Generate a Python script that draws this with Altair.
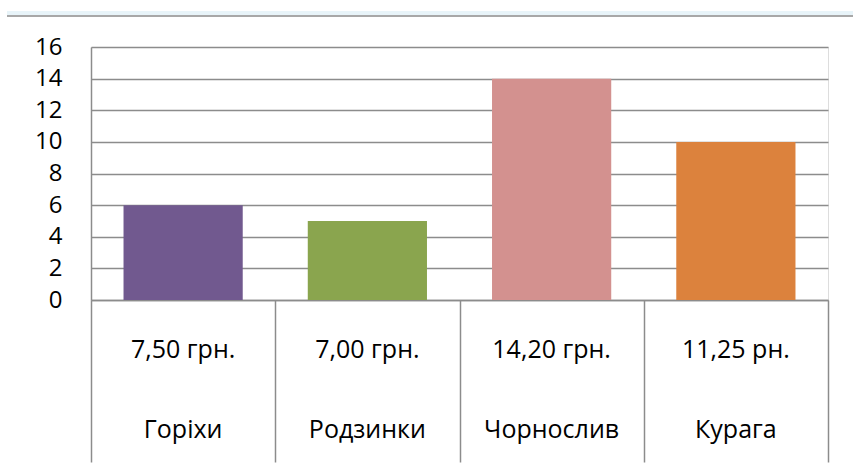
import altair as alt
import pandas as pd

names = ["Горіхи", "Родзинки", "Чорнослив", "Курага"]
prices = ["7,50 грн.", "7,00 грн.", "14,20 грн.", "11,25 рн."]
values = [6, 5, 14, 10]
colors = ["#71598f", "#8aa54e", "#d3918f", "#dc823d"]
y_ticks = [0, 2, 4, 6, 8, 10, 12, 14, 16]

df = pd.DataFrame({"name": names, "price": prices, "value": values, "color": colors})

FONT = "Open Sans"
GRID = "#8c8c8c"

x_axis = alt.Axis(
    title=None,
    labels=False,
    tickBand="extent",
    tickSize=162,
    tickColor=GRID,
    tickWidth=1.5,
    domainColor=GRID,
    domainWidth=1.5,
    grid=False,
)
x_scale = alt.Scale(paddingInner=0, paddingOuter=0)

y_axis = alt.Axis(
    title=None,
    values=y_ticks,
    ticks=False,
    labelOverlap=False,
    labelPadding=29,
    labelAlign="right",
    labelBaseline="middle",
    labelFont=FONT,
    labelFontSize=24,
    labelColor="#000000",
    gridColor=GRID,
    gridWidth=1.5,
    domainColor=GRID,
    domainWidth=1.5,
)
y_scale = alt.Scale(domain=[0, 16], nice=False)

bars = alt.Chart(df).mark_bar(width=alt.RelativeBandSize(0.647)).encode(
    x=alt.X("name:N", sort=names, scale=x_scale, axis=x_axis),
    y=alt.Y("value:Q", scale=y_scale, axis=y_axis),
    color=alt.Color("color:N", scale=None, legend=None),
)

price_text = alt.Chart(df).mark_text(
    font=FONT, fontSize=25, color="#000000", dy=50, baseline="middle"
).encode(
    x=alt.X("name:N", sort=names, scale=x_scale, axis=x_axis),
    y=alt.YDatum(0, type="quantitative", scale=y_scale, axis=y_axis),
    text="price:N",
)

name_text = alt.Chart(df).mark_text(
    font=FONT, fontSize=25, color="#000000", dy=130, baseline="middle"
).encode(
    x=alt.X("name:N", sort=names, scale=x_scale, axis=x_axis),
    y=alt.YDatum(0, type="quantitative", scale=y_scale, axis=y_axis),
    text="name:N",
)

top_band = alt.Chart(df).mark_rect(color="#e8f4f9").encode(
    x=alt.value(-84), x2=alt.value(762), y=alt.value(-36), y2=alt.value(-32)
)
top_line = alt.Chart(df).mark_rule(color="#a8a8a8", strokeWidth=2).encode(
    x=alt.value(-84), x2=alt.value(762), y=alt.value(-31)
)

chart = (
    alt.layer(bars, price_text, name_text, top_band, top_line)
    .properties(
        width=737,
        height=253,
        autosize=alt.AutoSizeParams(type="none"),
        padding={"left": 91, "top": 47, "right": 25, "bottom": 170},
    )
    .configure_view(strokeWidth=0)
    .configure(background="#ffffff")
)

chart.save("out.html", embed_options={"renderer": "svg", "actions": False})
